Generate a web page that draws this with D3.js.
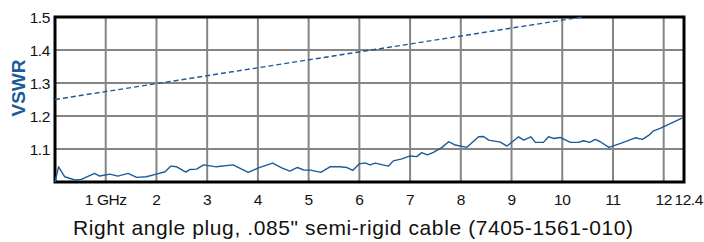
<!DOCTYPE html>
<html>
<head>
<meta charset="utf-8">
<script src="https://cdn.jsdelivr.net/npm/d3@7"></script>
<style>
  body { margin: 0; background: #fff; }
  .tick-label { font-family: "Liberation Sans", Arial, sans-serif; font-size: 15.5px; letter-spacing: -0.4px; fill: #111; }
</style>
</head>
<body>
<div id="chart"></div>
<script>
// Measured VSWR (solid line), frequency in GHz
const freqGHz = [0, 0.07, 0.19, 0.39, 0.52, 0.78, 0.88, 1.08, 1.24, 1.44, 1.61, 1.80, 2.0, 2.17, 2.28, 2.40, 2.58, 2.66, 2.79,
  2.93, 3.18, 3.51, 3.81, 4.01, 4.29, 4.47, 4.63, 4.78, 4.91, 5.04, 5.24, 5.42, 5.62, 5.75, 5.87, 6.0, 6.11, 6.21, 6.31,
  6.57, 6.67, 6.84, 7.0, 7.13, 7.23, 7.34, 7.46, 7.63, 7.76, 7.89, 8.12, 8.35, 8.45, 8.55, 8.78, 8.91, 9.14, 9.24, 9.38,
  9.47, 9.63, 9.73, 9.83, 9.96, 10.16, 10.32, 10.42, 10.54, 10.65, 10.75, 10.92, 11.15, 11.44, 11.58, 11.71, 11.80, 11.94, 12.39];
const vswr = [1.0, 1.046, 1.016, 1.006, 1.008, 1.026, 1.018, 1.024, 1.018, 1.026, 1.014, 1.016, 1.024, 1.031, 1.048, 1.046, 1.030, 1.038, 1.039,
  1.052, 1.046, 1.052, 1.029, 1.043, 1.057, 1.043, 1.033, 1.044, 1.036, 1.036, 1.029, 1.046, 1.046, 1.044, 1.035, 1.055, 1.058, 1.052, 1.057,
  1.048, 1.064, 1.070, 1.079, 1.077, 1.089, 1.082, 1.090, 1.105, 1.122, 1.112, 1.105, 1.137, 1.138, 1.127, 1.121, 1.109, 1.137, 1.127, 1.137,
  1.120, 1.120, 1.137, 1.132, 1.135, 1.120, 1.120, 1.125, 1.120, 1.129, 1.122, 1.105, 1.117, 1.134, 1.129, 1.142, 1.155, 1.163, 1.196];

// Specification limit (dashed line)
const limitFreq = [0, 10.4];
const limitVswr = [1.25, 1.5];

const xTicks = [1, 2, 3, 4, 5, 6, 7, 8, 9, 10, 11, 12, 12.4];
const xTickLabels = ["1 GHz", "2", "3", "4", "5", "6", "7", "8", "9", "10", "11", "12", "12.4"];
const yTicks = [1.1, 1.2, 1.3, 1.4, 1.5];
const yTickLabels = ["1.1", "1.2", "1.3", "1.4", "1.5"];

const caption = 'Right angle plug, .085" semi-rigid cable (7405-1561-010)';

const width = 704, height = 242;
const margin = { top: 17, right: 20, bottom: 60, left: 55 };
const blue = "#1d5a98";

const svg = d3.select("#chart").append("svg")
  .attr("width", width)
  .attr("height", height);

const x = d3.scaleLinear().domain([0, 12.4]).range([margin.left, width - margin.right]);
const y = d3.scaleLinear().domain([1.0, 1.5]).range([height - margin.bottom, margin.top]);

// Grid
svg.append("g")
  .selectAll("line")
  .data(xTicks.filter(d => d < 12.4))
  .join("line")
  .attr("x1", d => x(d)).attr("x2", d => x(d))
  .attr("y1", y(1.5)).attr("y2", y(1.0))
  .attr("stroke", "#858585")
  .attr("stroke-width", 2);

svg.append("g")
  .selectAll("line")
  .data(yTicks.filter(d => d < 1.5))
  .join("line")
  .attr("x1", x(0)).attr("x2", x(12.4))
  .attr("y1", d => y(d)).attr("y2", d => y(d))
  .attr("stroke", "#858585")
  .attr("stroke-width", 2);

// Frame
svg.append("rect")
  .attr("x", x(0)).attr("y", y(1.5))
  .attr("width", x(12.4) - x(0))
  .attr("height", y(1.0) - y(1.5))
  .attr("fill", "none")
  .attr("stroke", "#000")
  .attr("stroke-width", 3);

// Axis labels
svg.append("g")
  .selectAll("text")
  .data(yTicks)
  .join("text")
  .attr("class", "tick-label")
  .attr("x", margin.left - 5)
  .attr("y", d => y(d))
  .attr("dy", "0.36em")
  .attr("text-anchor", "end")
  .text((d, i) => yTickLabels[i]);

svg.append("g")
  .selectAll("text")
  .data(xTicks)
  .join("text")
  .attr("class", "tick-label")
  .attr("x", d => d === 12.4 ? width - 1 : x(d))
  .attr("y", y(1.0) + 23)
  .attr("text-anchor", d => d === 12.4 ? "end" : "middle")
  .text((d, i) => xTickLabels[i]);

svg.append("text")
  .attr("transform", "translate(25, 88) rotate(-90)")
  .attr("text-anchor", "middle")
  .attr("font-family", "Liberation Sans, Arial, sans-serif")
  .attr("font-weight", "bold")
  .attr("font-size", 19)
  .attr("fill", blue)
  .text("VSWR");

svg.append("text")
  .attr("x", 353)
  .attr("y", 235)
  .attr("text-anchor", "middle")
  .attr("font-family", "Liberation Sans, Arial, sans-serif")
  .attr("font-size", 21)
  .attr("textLength", 560)
  .attr("lengthAdjust", "spacing")
  .attr("fill", "#111")
  .text(caption);

// Lines
const line = d3.line()
  .x(d => x(d[0]))
  .y(d => y(d[1]));

svg.append("path")
  .datum(limitFreq.map((f, i) => [f, limitVswr[i]]))
  .attr("d", line)
  .attr("fill", "none")
  .attr("stroke", blue)
  .attr("stroke-width", 1.4)
  .attr("stroke-dasharray", "5,3");

svg.append("path")
  .datum(freqGHz.map((f, i) => [f, vswr[i]]))
  .attr("d", line)
  .attr("fill", "none")
  .attr("stroke", blue)
  .attr("stroke-width", 1.4)
  .attr("stroke-linejoin", "round");
</script>
</body>
</html>
